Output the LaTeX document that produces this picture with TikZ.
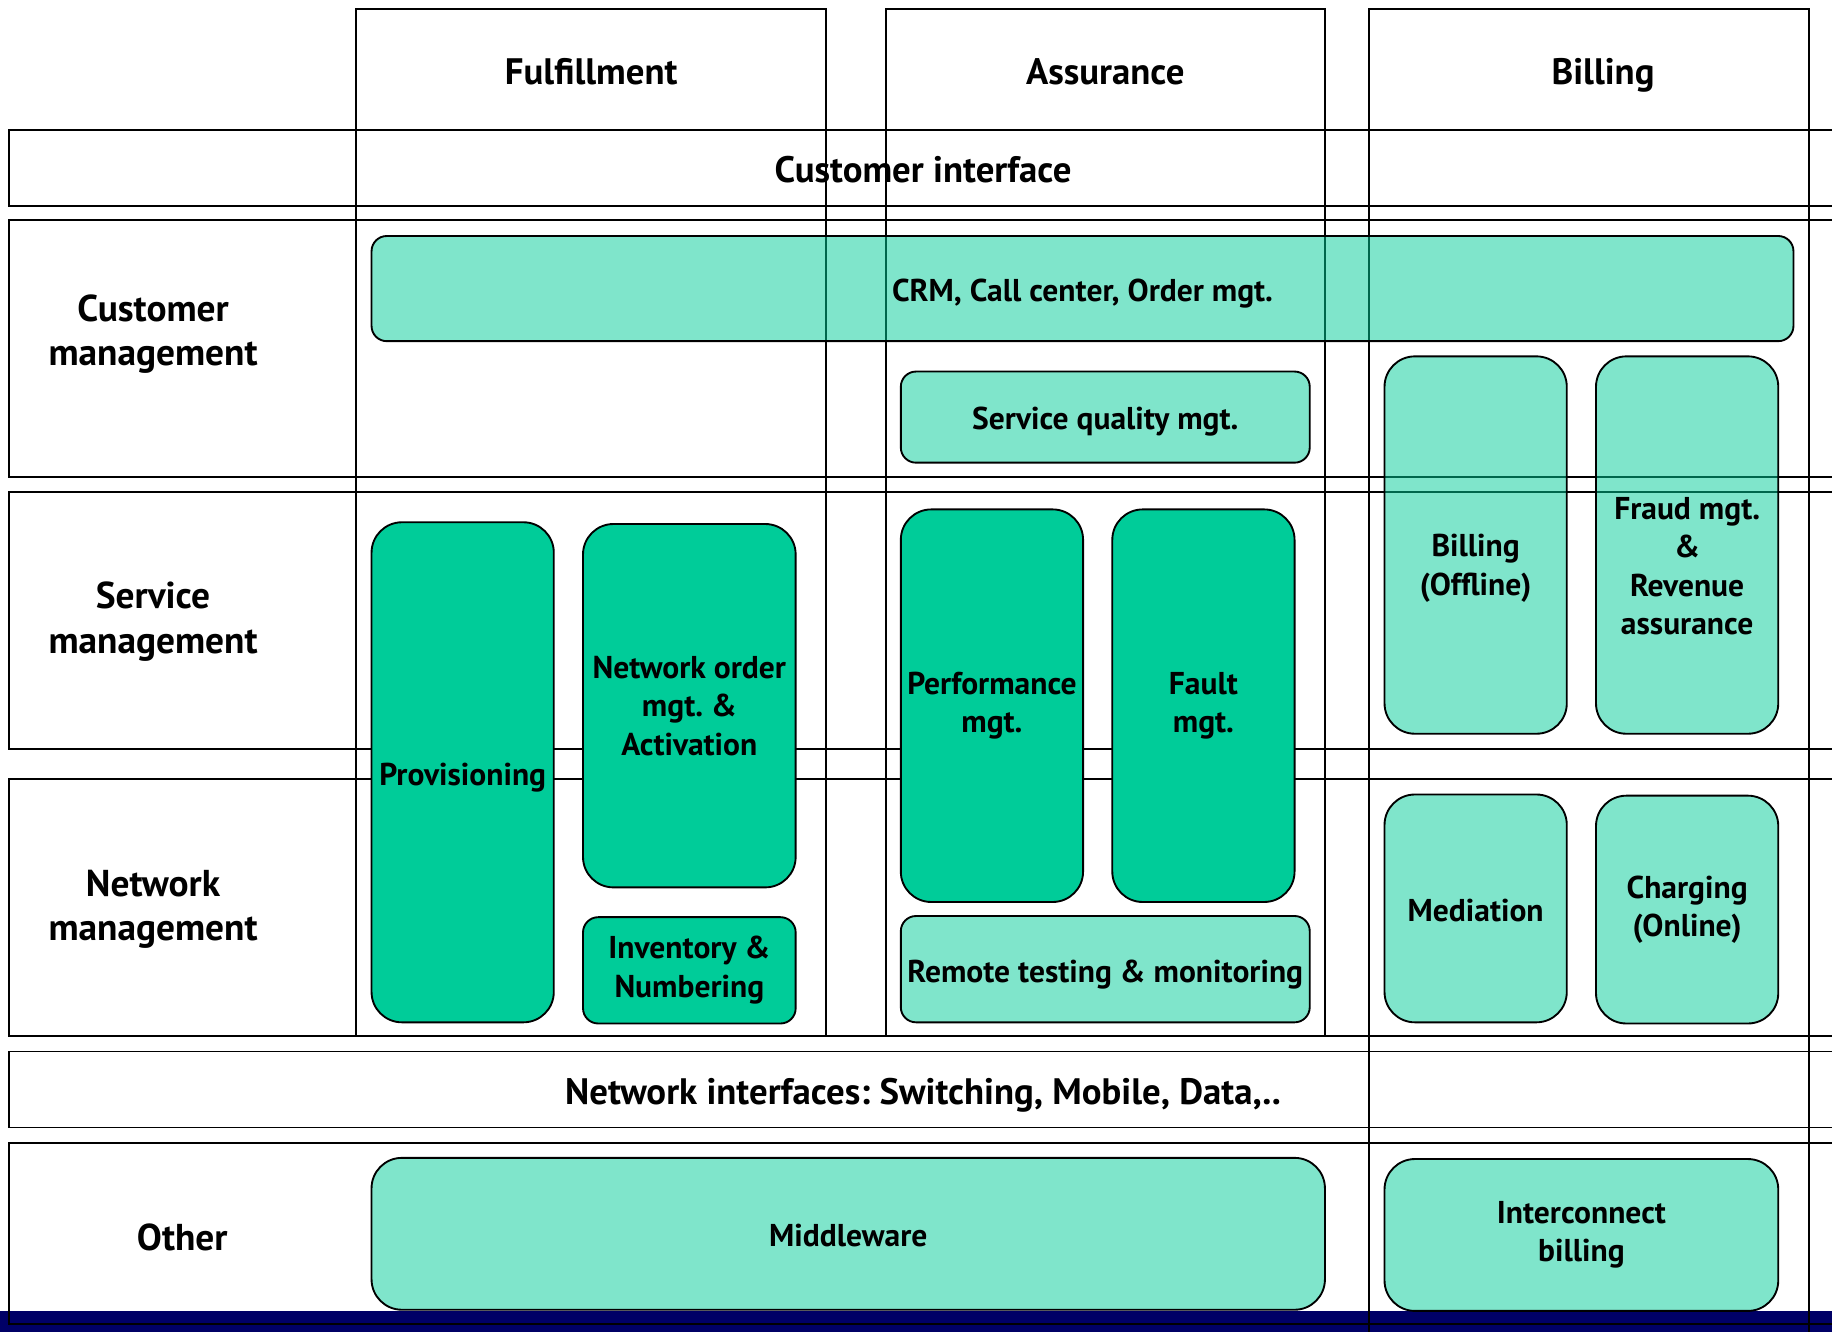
\documentclass[tikz,border=0pt]{standalone}
\usepackage{fontspec}
\setmainfont{PT Sans}
\frenchspacing
\definecolor{boxgreen}{HTML}{00CC99}
\definecolor{bandblue}{HTML}{000066}
\newcommand\boxfont{\bfseries\fontsize{27}{33}\selectfont}
\newcommand\hdrfont{\bfseries\fontsize{31.5}{38}\selectfont}
\newcommand\rowfont{\bfseries\fontsize{32}{38}\selectfont}

\begin{document}
\begin{tikzpicture}[x=1pt,y=-1pt,
  frame/.style={draw=black,line width=1.6pt},
  darkbox/.style={rectangle,draw=black,line width=1.6pt,fill=boxgreen,align=center,font=\boxfont,inner sep=0pt,rounded corners=26pt},
  lightbox/.style={darkbox,fill opacity=.5,text opacity=1},
  flat/.style={rounded corners=13pt},
  oneline/.style={text height=23.5pt,text depth=1.5pt},
  txt/.style={align=center,font=\boxfont,inner sep=0pt},
  hdr/.style={font=\hdrfont,inner sep=0pt,text height=25pt,text depth=4pt},
  rowtxt/.style={align=center,font=\rowfont,inner sep=0pt}]

\useasboundingbox (0,0) rectangle (1568,1140);
\clip (0,0) rectangle (1568,1140);
\fill[white] (0,0) rectangle (1568,1140);
\fill[bandblue] (0,1122) rectangle (1568,1140);

% columns
\draw[frame] (305,8) rectangle (707,887);
\draw[frame] (758,8) rectangle (1134,887);
\draw[frame] (1172,8) rectangle (1548,1160);

% rows
\draw[frame] (8,111) rectangle (1600,176);
\draw[frame] (8,188) rectangle (1600,408);
\draw[frame] (8,421) rectangle (1600,641);
\draw[frame] (8,667) rectangle (1600,887);
\draw[frame] (8,900) rectangle (1600,965);
\draw[frame] (8,978) rectangle (1600,1133);

\node[hdr] (fulfil) at (506,62) {Fulfillment};
\node[hdr] (assur) at (946,62) {Assurance};
\node[hdr] (bill) at (1372,62) {Billing};
\node[hdr] (custif) at (790,146) {Customer interface};
\node[hdr] (netif) at (790,935) {Network interfaces: Switching, Mobile, Data,..};

\node[rowtxt] (custmgt) at (131,286) {Customer\\management};
\node[rowtxt] (svcmgt) at (131,532) {Service\\management};
\node[rowtxt] (netmgt) at (131,778) {Network\\management};
\node[rowtxt,text height=23pt,text depth=3pt] (other) at (156,1060) {Other};

% boxes
\node[lightbox,flat,oneline,minimum width=1217pt,minimum height=90pt] (crm) at (926.5,247) {CRM, Call center, Order mgt.};
\node[lightbox,flat,oneline,minimum width=350pt,minimum height=78pt] (sqm) at (946,357) {Service quality mgt.};
\node[lightbox,minimum width=156pt,minimum height=323pt] (boff) at (1263,466.5) {};
\node[txt] at ([yshift=-20pt]boff.center) {Billing\\(Offline)};
\node[lightbox,minimum width=156pt,minimum height=323pt] (fraud) at (1444,466.5) {};
\node[txt] at ([yshift=-18pt]fraud.center) {Fraud mgt.\\\&\\Revenue\\assurance};

\node[darkbox,oneline,minimum width=156pt,minimum height=428pt] (prov) at (396,661) {Provisioning};
\node[darkbox,minimum width=182pt,minimum height=311pt] (nom) at (590,604) {Network order\\mgt. \&\\Activation};
\node[darkbox,flat,minimum width=182pt,minimum height=91pt] (inv) at (590,830.5) {Inventory \&\\Numbering};
\node[darkbox,minimum width=156pt,minimum height=336pt] (perf) at (849,604) {Performance\\mgt.};
\node[darkbox,minimum width=156pt,minimum height=336pt] (fault) at (1030,604) {Fault\\mgt.};
\node[lightbox,flat,oneline,minimum width=350pt,minimum height=91pt] (rtm) at (946,829.5) {Remote testing \& monitoring};
\node[lightbox,oneline,minimum width=156pt,minimum height=195pt] (med) at (1263,777.5) {Mediation};
\node[lightbox,minimum width=156pt,minimum height=195pt] (chg) at (1444,778.5) {Charging\\(Online)};

\node[lightbox,oneline,minimum width=816pt,minimum height=130pt] (mid) at (726,1056) {Middleware};
\node[lightbox,minimum width=337pt,minimum height=130pt] (icb) at (1353.5,1057) {Interconnect\\billing};

\end{tikzpicture}
\end{document}
